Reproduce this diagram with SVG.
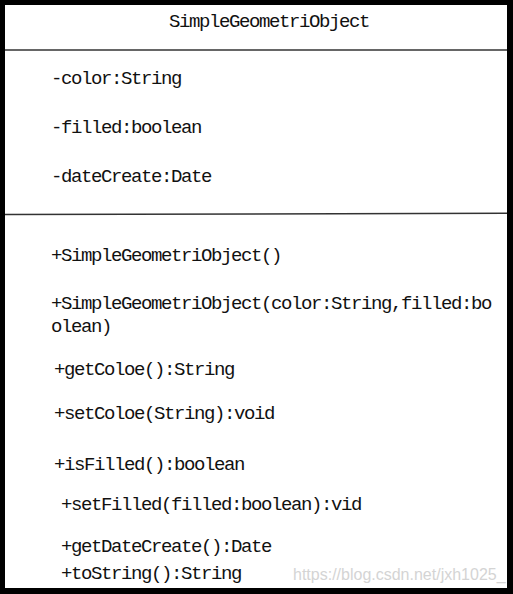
<svg xmlns="http://www.w3.org/2000/svg" width="513" height="594" viewBox="0 0 513 594">
<style>
.t{font-family:"Liberation Mono","DejaVu Sans Mono",monospace;font-size:19px;letter-spacing:-1.4px;fill:#111}
.wm{font-family:"Liberation Sans",Arial,sans-serif;font-size:16px;fill:#d4d4d4}
.sep{stroke:#333;stroke-width:1.5;fill:none}
</style>
<rect x="0" y="0" width="513" height="594" fill="#000"/>
<g id="class-SimpleGeometriObject">
<rect x="5" y="5" width="502" height="583" fill="#fff"/>
<line class="sep" x1="5" y1="50" x2="507" y2="50"/>
<line class="sep" x1="5" y1="214.5" x2="507" y2="213.3" stroke="#555"/>
<text class="t" x="169" y="27">SimpleGeometriObject</text>
<text class="t" x="51" y="84">-color:String</text>
<text class="t" x="51" y="133">-filled:boolean</text>
<text class="t" x="51" y="182">-dateCreate:Date</text>
<text class="t" x="51" y="261">+SimpleGeometriObject()</text>
<text class="t" x="51" y="309">+SimpleGeometriObject(color:String,filled:bo</text>
<text class="t" x="51" y="332">olean)</text>
<text class="t" x="54" y="375">+getColoe():String</text>
<text class="t" x="54" y="419">+setColoe(String):void</text>
<text class="t" x="54" y="470">+isFilled():boolean</text>
<text class="t" x="61" y="510">+setFilled(filled:boolean):vid</text>
<text class="t" x="61" y="552">+getDateCreate():Date</text>
<text class="t" x="61" y="579">+toString():String</text>
</g>
<g id="connectors"/>
<text class="wm" x="293" y="580">https://blog.csdn.net/jxh1025_</text>
</svg>
